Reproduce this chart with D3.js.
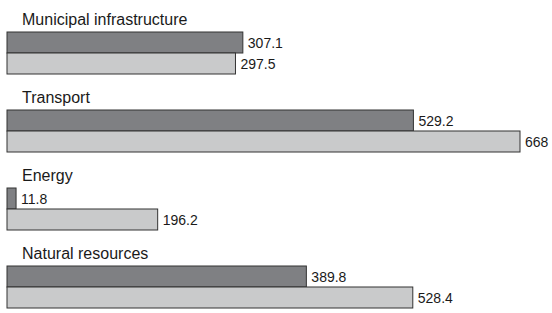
<!DOCTYPE html>
<html>
<head>
<meta charset="utf-8">
<script src="https://cdn.jsdelivr.net/npm/d3@7"></script>
<style>
  body { margin: 0; background: #fff; }
  text { font-family: "Liberation Sans", Arial, sans-serif; }
</style>
</head>
<body>
<script>
        var w = 552;
        var h = 313;

        var categories = ["Municipal infrastructure", "Transport", "Energy", "Natural resources"];
        var seriesA = [307.1, 529.2, 11.8, 389.8];   // dark bars
        var seriesB = [297.5, 668, 196.2, 528.4];    // light bars
        var colors = ["#7f8083", "#c9cacb"];

        var barH = 21;

        var xScale = d3.scaleLinear()
                       .domain([0, 668])
                       .range([7, 520]);

        var yScale = d3.scaleBand()
                       .domain(categories)
                       .range([32, 344])
                       .paddingInner(0)
                       .paddingOuter(0);

        var svg = d3.select("body")
                    .append("svg")
                    .attr("width", w)
                    .attr("height", h);

        var groups = svg.selectAll("g.cat")
           .data(categories)
           .enter()
           .append("g")
           .attr("class", "cat")
           .attr("transform", function(d) { return "translate(0," + yScale(d) + ")"; });

        // category titles above each pair of bars
        groups.append("text")
           .attr("x", 22)
           .attr("y", -7)
           .attr("font-size", "16px")
           .attr("fill", "#1a1a1a")
           .text(function(d) { return d; });

        var series = [seriesA, seriesB];

        series.forEach(function(vals, s) {
            groups.append("rect")
               .attr("x", xScale(0))
               .attr("y", s * barH)
               .attr("width", function(d, i) { return xScale(vals[i]) - xScale(0); })
               .attr("height", barH)
               .attr("fill", colors[s])
               .attr("stroke", "#333")
               .attr("stroke-width", 1);

            groups.append("text")
               .attr("x", function(d, i) { return xScale(vals[i]) + 5; })
               .attr("y", s * barH + barH / 2)
               .attr("dy", "0.36em")
               .attr("font-size", "14px")
               .attr("fill", "#1a1a1a")
               .text(function(d, i) { return vals[i]; });
        });
</script>
</body>
</html>
